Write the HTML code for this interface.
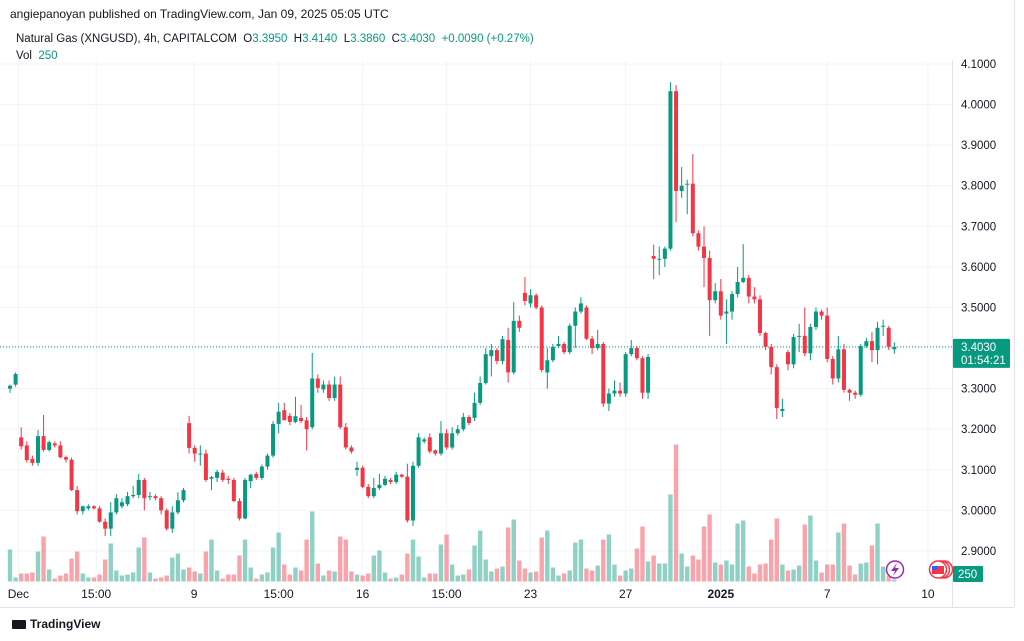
<!DOCTYPE html>
<html><head><meta charset="utf-8"><style>
body{margin:0;background:#fff;font-family:"Liberation Sans",sans-serif;}
#wrap{position:relative;width:1024px;height:641px;overflow:hidden;background:#fff;}
.t{position:absolute;white-space:nowrap;color:#131722;}
</style></head><body>
<div id="wrap">
<div class="t" style="left:10px;top:7px;font-size:12px;">angiepanoyan published on TradingView.com, Jan 09, 2025 05:05 UTC</div>
<div class="t" style="left:16px;top:33px;font-size:11.5px;">Natural Gas (XNGUSD), 4h, CAPITALCOM&nbsp; O<span style="color:#089981">3.3950</span>&nbsp; H<span style="color:#089981">3.4140</span>&nbsp; L<span style="color:#089981">3.3860</span>&nbsp; C<span style="color:#089981">3.4030</span>&nbsp; <span style="color:#089981">+0.0090 (+0.27%)</span></div>
<div class="t" style="left:16px;top:50px;font-size:11.5px;">Vol&nbsp; <span style="color:#089981">250</span></div>
<svg id="chart" width="1024" height="641" style="position:absolute;left:0;top:0"></svg>
<div class="t" style="left:12px;top:617px;font-size:12px;font-weight:bold;"><span style="display:inline-block;width:14px;height:9px;background:#131722;border-radius:1px;margin-right:4px;vertical-align:-1px"></span>TradingView</div>
</div>
<script>
const opens=[3.30,3.31,3.18,3.16,3.127,3.117,3.183,3.149,3.165,3.16,3.131,3.125,3.05,2.998,3.005,3.010,3.005,2.972,2.955,2.995,3.010,3.015,3.035,3.038,3.075,3.035,3.035,3.030,3.000,2.955,2.995,3.025,3.215,3.154,3.138,3.140,3.078,3.08,3.093,3.078,3.075,3.023,2.98,3.072,3.09,3.08,3.108,3.135,3.213,3.247,3.233,3.218,3.228,3.222,3.205,3.325,3.298,3.31,3.277,3.31,3.205,3.155,3.10,3.105,3.058,3.035,3.055,3.063,3.075,3.07,3.088,3.083,2.975,3.11,3.17,3.18,3.148,3.14,3.19,3.155,3.19,3.20,3.23,3.228,3.265,3.314,3.38,3.395,3.368,3.42,3.34,3.467,3.536,3.51,3.53,3.50,3.34,3.37,3.405,3.41,3.39,3.455,3.49,3.50,3.423,3.40,3.41,3.263,3.288,3.295,3.288,3.385,3.40,3.375,3.29,3.627,3.62,3.62,3.645,4.033,3.787,3.805,3.805,3.683,3.650,3.622,3.518,3.54,3.485,3.49,3.533,3.563,3.573,3.527,3.52,3.437,3.403,3.353,3.245,3.39,3.36,3.43,3.43,3.387,3.452,3.49,3.48,3.373,3.325,3.397,3.297,3.29,3.285,3.405,3.417,3.395,3.455,3.45,3.397];
const closes=[3.307,3.336,3.158,3.124,3.117,3.183,3.149,3.168,3.160,3.131,3.125,3.050,2.998,3.010,3.010,3.005,2.972,2.955,2.995,3.030,3.020,3.035,3.038,3.075,3.030,3.035,3.030,3.000,2.955,2.995,3.025,3.050,3.154,3.140,3.140,3.075,3.082,3.095,3.075,3.075,3.023,2.98,3.075,3.088,3.08,3.108,3.135,3.213,3.243,3.222,3.218,3.232,3.22,3.20,3.325,3.302,3.31,3.277,3.31,3.205,3.155,3.145,3.105,3.058,3.035,3.055,3.063,3.078,3.07,3.088,3.083,2.975,3.11,3.18,3.175,3.145,3.14,3.19,3.155,3.19,3.20,3.23,3.215,3.265,3.314,3.385,3.395,3.368,3.422,3.34,3.467,3.45,3.516,3.53,3.50,3.346,3.37,3.403,3.41,3.39,3.455,3.49,3.51,3.423,3.40,3.41,3.263,3.288,3.295,3.288,3.385,3.40,3.375,3.29,3.378,3.62,3.62,3.645,4.033,3.787,3.80,3.805,3.683,3.650,3.622,3.518,3.54,3.48,3.49,3.533,3.563,3.573,3.527,3.52,3.437,3.403,3.353,3.252,3.25,3.36,3.427,3.43,3.387,3.452,3.49,3.48,3.373,3.325,3.397,3.297,3.29,3.285,3.405,3.417,3.395,3.45,3.455,3.403,3.403];
const highs=[3.31,3.34,3.205,3.17,3.135,3.198,3.235,3.172,3.17,3.17,3.135,3.13,3.06,3.012,3.015,3.013,3.01,2.98,3.02,3.04,3.03,3.045,3.06,3.09,3.08,3.045,3.04,3.035,3.005,3.01,3.045,3.055,3.233,3.16,3.16,3.15,3.085,3.10,3.10,3.085,3.08,3.03,3.08,3.09,3.095,3.113,3.14,3.22,3.265,3.265,3.24,3.28,3.26,3.23,3.388,3.335,3.32,3.32,3.33,3.33,3.215,3.16,3.12,3.11,3.065,3.08,3.09,3.085,3.08,3.095,3.09,3.115,3.12,3.19,3.18,3.19,3.15,3.22,3.20,3.205,3.21,3.24,3.235,3.29,3.33,3.40,3.41,3.40,3.43,3.45,3.513,3.48,3.575,3.545,3.535,3.505,3.40,3.41,3.43,3.415,3.46,3.50,3.525,3.505,3.43,3.445,3.415,3.30,3.32,3.315,3.39,3.42,3.405,3.38,3.385,3.655,3.65,3.65,4.055,4.048,3.846,3.815,3.878,3.69,3.70,3.64,3.56,3.57,3.52,3.54,3.60,3.656,3.58,3.55,3.53,3.44,3.41,3.36,3.275,3.395,3.435,3.46,3.50,3.46,3.50,3.495,3.50,3.38,3.43,3.41,3.30,3.295,3.41,3.425,3.44,3.465,3.47,3.455,3.414];
const lows=[3.29,3.305,3.15,3.118,3.11,3.11,3.145,3.145,3.155,3.128,3.118,3.048,2.99,2.99,3.00,3.002,2.97,2.937,2.937,2.99,3.005,3.01,3.03,3.03,3.00,3.025,3.025,2.99,2.95,2.945,2.99,3.02,3.14,3.12,3.11,3.07,3.05,3.07,3.07,3.065,3.02,2.975,2.978,3.055,3.075,3.075,3.10,3.13,3.19,3.225,3.21,3.215,3.215,3.148,3.20,3.29,3.29,3.27,3.27,3.20,3.15,3.14,3.085,3.055,3.03,3.03,3.05,3.06,3.065,3.065,3.08,2.97,2.962,3.105,3.165,3.14,3.135,3.135,3.15,3.15,3.185,3.195,3.21,3.22,3.26,3.31,3.33,3.36,3.36,3.315,3.335,3.44,3.505,3.50,3.495,3.34,3.30,3.365,3.40,3.385,3.385,3.40,3.485,3.42,3.385,3.395,3.255,3.245,3.28,3.28,3.28,3.38,3.37,3.275,3.275,3.57,3.58,3.60,3.64,3.71,3.77,3.73,3.675,3.64,3.55,3.43,3.51,3.47,3.41,3.47,3.525,3.56,3.51,3.51,3.43,3.395,3.335,3.225,3.23,3.345,3.35,3.39,3.38,3.37,3.445,3.47,3.365,3.31,3.315,3.29,3.27,3.275,3.28,3.40,3.365,3.36,3.43,3.395,3.386];
const volumes=[32,4,8,8,9,30,45,12,3,6,8,23,30,8,4,4,7,22,38,11,6,7,9,34,44,9,3,4,6,24,28,12,14,10,8,30,42,11,3,7,7,26,42,14,3,7,9,34,49,17,7,14,11,42,70,18,6,11,10,45,42,10,7,6,8,26,31,9,3,4,7,28,42,25,4,8,8,37,47,17,6,7,12,36,51,22,10,13,15,54,62,21,13,9,10,44,51,14,6,8,11,39,42,13,11,16,42,47,17,6,11,13,33,55,20,26,18,18,87,137,28,15,26,22,55,67,19,17,21,17,58,61,15,8,17,18,42,63,17,11,12,16,57,66,21,9,17,17,49,58,16,7,18,19,36,58,15,6,2];
const priceTicks=[4.1,4.0,3.9,3.8,3.7,3.6,3.5,3.4,3.3,3.2,3.1,3.0,2.9];
const timeLabels=["Dec","15:00","9","15:00","16","15:00","23","27","2025","7","10"];
const timeLabelIdx=[1.5,15.4,32.9,48,63,78,93,110,127,146,164];
const lastPrice=3.4030;

const NS="http://www.w3.org/2000/svg";
const svg=document.getElementById('chart');
const yP=p=>64+(4.1-p)*405.8;
const xI=i=>10+i*5.597;
const yV=v=>581.5-v;
const UP="#089981",DN="#f23645",VUP="rgba(8,153,129,0.45)",VDN="rgba(242,54,69,0.45)";
function el(tag,attrs){const e=document.createElementNS(NS,tag);for(const k in attrs)e.setAttribute(k,attrs[k]);svg.appendChild(e);return e;}
const W=952;
priceTicks.forEach((p,i)=>{
  const g=el('line',{x1:0,x2:W,y1:yP(p),y2:yP(p),stroke:'#f0f3fa','stroke-width':1});
  
  
  const t=el('text',{x:961,y:yP(p)+4,'font-size':11.5,fill:'#131722','font-family':'Liberation Sans, sans-serif'});
  t.textContent=p.toFixed(4);
  
  
});
timeLabels.forEach((s,i)=>{
  const x=xI(timeLabelIdx[i]);
  const g=el('line',{x1:x,x2:x,y1:60,y2:582,stroke:'#f0f3fa','stroke-width':1});
  
  
  const t=el('text',{x:x,y:598,'font-size':12,fill:'#131722','text-anchor':'middle','font-family':'Liberation Sans, sans-serif','font-weight':s==='2025'?'bold':'normal'});
  t.textContent=s;
  
  
});
const ax=el('line',{x1:W+0.5,x2:W+0.5,y1:60,y2:607,stroke:'#e0e3eb'});


const bx=el('line',{x1:0,x2:1014,y1:607.5,y2:607.5,stroke:'#e0e3eb'});


const rb=el('line',{x1:1014.5,x2:1014.5,y1:0,y2:607,stroke:'#e0e3eb'});


volumes.forEach((v,i)=>{
  const up=closes[i]>=opens[i];
  const r=el('rect',{x:xI(i)-2.2,y:yV(v),width:4.4,height:v,fill:up?VUP:VDN});
  
  
});
const pl=el('line',{x1:0,x2:W,y1:yP(lastPrice),y2:yP(lastPrice),stroke:UP,'stroke-width':1,'stroke-dasharray':'1 2'});


opens.forEach((o,i)=>{
  const c=closes[i],up=c>=o,col=up?UP:DN,x=xI(i);
  const w=el('line',{x1:x,x2:x,y1:yP(highs[i]),y2:yP(lows[i]),stroke:col,'stroke-width':1});
  
  
  const top=yP(Math.max(o,c)),bot=yP(Math.min(o,c));
  const b=el('rect',{x:x-2,y:top,width:4,height:Math.max(1,bot-top),fill:col});
  
  
});
const lb=el('rect',{x:953,y:yP(lastPrice)-8,width:57,height:29,fill:UP,rx:1});


const lt=el('text',{x:961,y:yP(lastPrice)+4,'font-size':11.5,fill:'#fff','font-family':'Liberation Sans, sans-serif'});
lt.textContent=lastPrice.toFixed(4);


const ct=el('text',{x:961,y:yP(lastPrice)+17,'font-size':11.5,fill:'#fff','font-family':'Liberation Sans, sans-serif'});
ct.textContent='01:54:21';


const vb=el('rect',{x:953,y:566,width:30,height:16,fill:UP,rx:1});


const vt=el('text',{x:958,y:578,'font-size':11.5,fill:'#fff','font-family':'Liberation Sans, sans-serif'});
vt.textContent='250';


const ic=el('circle',{cx:895,cy:569.5,r:8.5,fill:'#fff',stroke:'#9c27b0','stroke-width':1.5});


const ip=el('path',{d:'M897 563 L891 571 L895 571 L893 576 L899 568 L895 568 Z',fill:'#9c27b0'});


[944,941,938].forEach(cx=>{
  const f=el('circle',{cx:cx,cy:569.5,r:8.5,fill:'#fff',stroke:'#f23645','stroke-width':1.5});
  
  
});
const fr=el('rect',{x:932,y:566,width:12,height:8,fill:'#f23645'});


const fc=el('rect',{x:932,y:566,width:5,height:4,fill:'#2962ff'});


</script>
</body></html>
